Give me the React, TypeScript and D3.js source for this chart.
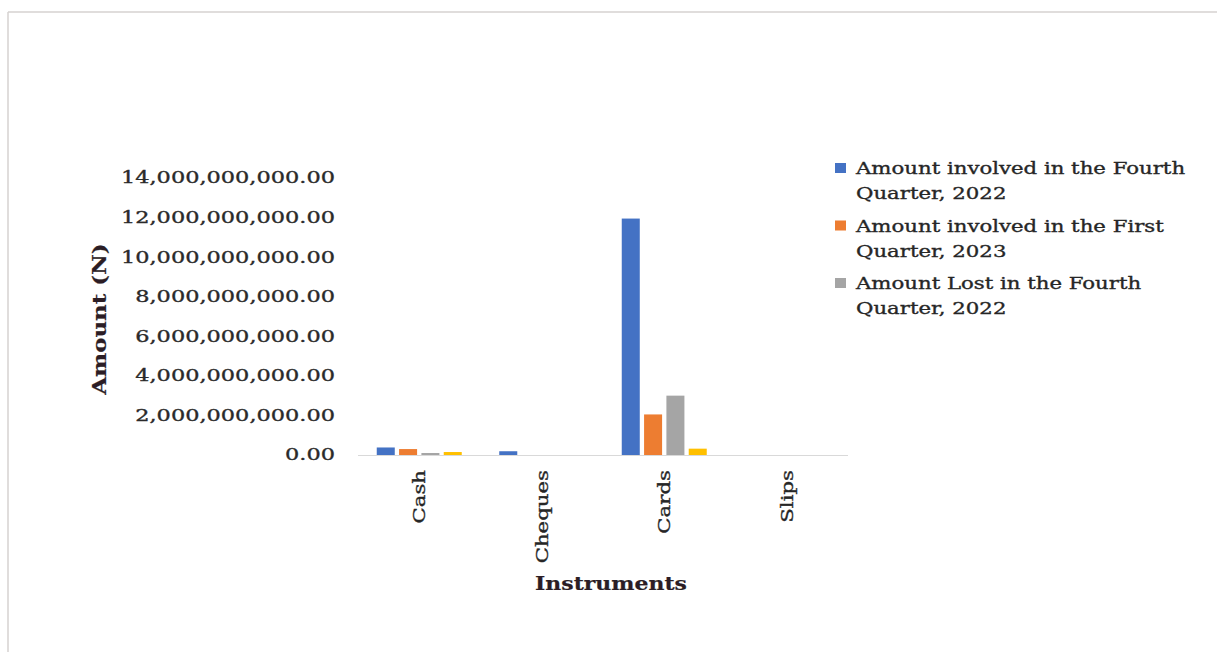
import React from "react";
import * as d3 from "d3";

// Fraud amounts by payment instrument (Naira)
const instruments = ["Cash", "Cheques", "Cards", "Slips"];
const seriesNames = [
  "Amount involved in the Fourth Quarter, 2022",
  "Amount involved in the First Quarter, 2023",
  "Amount Lost in the Fourth Quarter, 2022",
  "Amount Lost in the First Quarter, 2023",
];
const involvedQ4_2022 = [380000000, 190000000, 11950000000, 0];
const involvedQ1_2023 = [300000000, 0, 2050000000, 0];
const lostQ4_2022 = [100000000, 0, 3000000000, 0];
const lostQ1_2023 = [150000000, 0, 320000000, 0];
const seriesValues = [involvedQ4_2022, involvedQ1_2023, lostQ4_2022, lostQ1_2023];
const seriesColors = ["#4472C4", "#ED7D31", "#A5A5A5", "#FFC000"];
const legendLines = [
  ["Amount involved in the Fourth", "Quarter, 2022"],
  ["Amount involved in the First", "Quarter, 2023"],
  ["Amount Lost in the Fourth", "Quarter, 2022"],
  ["Amount Lost in the First", "Quarter, 2023"],
];
const yTicks = [0, 2e9, 4e9, 6e9, 8e9, 10e9, 12e9, 14e9];

const W = 1217;
const H = 652;
const FONT = "'DejaVu Serif', 'Liberation Serif', serif";

const plot = { left: 358, right: 848, top: 178, bottom: 455 };

type TProps = {
  x: number;
  y: number;
  text: string;
  size: number;
  sx: number;
  anchor?: "start" | "middle" | "end";
  rotate?: number;
  bold?: boolean;
  fill?: string;
  baseline?: string;
  weight?: number;
};

// Text drawn with a horizontal stretch in its own frame
function WideText({ x, y, text, size, sx, anchor = "start", rotate = 0, bold = false, fill = "#262626", baseline, weight = 0.35 }: TProps) {
  return (
    <text
      transform={`translate(${x},${y}) rotate(${rotate}) scale(${sx},1)`}
      fontFamily={FONT}
      fontSize={size}
      fontWeight={bold ? "bold" : "normal"}
      textAnchor={anchor}
      dominantBaseline={baseline}
      fill={fill}
      stroke={fill}
      strokeWidth={weight}
    >
      {text}
    </text>
  );
}

export default function App() {
  const x0 = d3.scaleBand<string>().domain(instruments).range([plot.left, plot.right]).paddingInner(0).paddingOuter(0);
  const band = x0.bandwidth();
  const groupWidth = 85;
  const x1 = d3
    .scaleBand<number>()
    .domain(d3.range(seriesValues.length))
    .range([(band - groupWidth) / 2, (band + groupWidth) / 2])
    .paddingInner(0.193);
  const y = d3.scaleLinear().domain([0, 14e9]).range([plot.bottom, plot.top]);
  const fmt = d3.format(",.2f");

  const legendX = 835;
  const legendY = 174;
  const legendStep = 57.5;
  const lineH = 25;

  return (
    <svg width={W} height={H} style={{ position: "absolute", left: 0, top: 0, background: "#fff" }}>
      <defs>
        <clipPath id="legend-clip">
          <rect x={820} y={140} width={W - 820} height={182} />
        </clipPath>
      </defs>
      <rect x={0} y={0} width={W} height={H} fill="#fff" />
      {/* chart frame */}
      <line x1={8} x2={W} y1={12} y2={12} stroke="#d6d2d0" strokeWidth={1.5} />
      <line x1={8} x2={8} y1={12} y2={H} stroke="#d6d2d0" strokeWidth={1.5} />

      {/* y tick labels */}
      {yTicks.map((t) => (
        <WideText key={t} x={335} y={y(t)} text={fmt(t)} size={16.5} sx={1.36} anchor="end" baseline="central" fill="#2a2a2a" />
      ))}

      {/* bars */}
      {instruments.map((cat, ci) => (
        <g key={cat} transform={`translate(${x0(cat)},0)`}>
          {seriesValues.map((vals, si) => (
            <rect
              key={si}
              x={x1(si)}
              y={y(vals[ci])}
              width={x1.bandwidth()}
              height={plot.bottom - y(vals[ci])}
              fill={seriesColors[si]}
            />
          ))}
        </g>
      ))}

      {/* baseline */}
      <line x1={plot.left} x2={plot.right} y1={plot.bottom + 0.5} y2={plot.bottom + 0.5} stroke="#d9d9d9" strokeWidth={1} />

      {/* category labels */}
      {instruments.map((cat) => (
        <WideText
          key={cat}
          x={(x0(cat) as number) + band / 2 + 6}
          y={470}
          text={cat}
          size={16}
          sx={1.33}
          anchor="end"
          rotate={-90}
          fill="#262626"
        />
      ))}

      {/* axis titles */}
      <WideText x={106} y={319} text="Amount (N)" size={18} sx={1.27} anchor="middle" rotate={-90} bold fill="#2b1d25" weight={0.2} />
      <WideText x={611} y={590} text="Instruments" size={18} sx={1.22} anchor="middle" bold fill="#2b1d25" weight={0.2} />

      {/* legend */}
      <g clipPath="url(#legend-clip)">
        {seriesNames.map((name, i) => (
          <g key={name}>
            <rect x={legendX} y={legendY + i * legendStep - 11} width={11} height={10} fill={seriesColors[i]} />
            {legendLines[i].map((ln, j) => (
              <WideText key={j} x={legendX + 21} y={legendY + i * legendStep + j * lineH} text={ln} size={17} sx={1.25} fill="#262626" />
            ))}
          </g>
        ))}
      </g>
    </svg>
  );
}
